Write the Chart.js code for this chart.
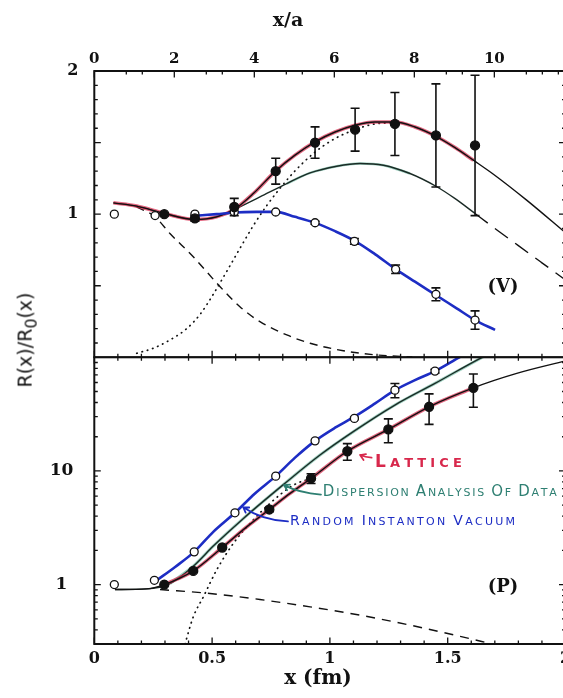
<!DOCTYPE html>
<html>
<head>
<meta charset="utf-8">
<script src="https://cdn.jsdelivr.net/npm/chart.js@4.4.1/dist/chart.umd.min.js"></script>
<style>
  html, body { margin: 0; padding: 0; background: #fff; width: 563px; height: 698px; overflow: hidden; position: relative; }
  canvas { position: absolute; left: 0; }
  #topPanel { top: 0; }
  #botPanel { top: 340px; }
  .title { position: absolute; font-family: "DejaVu Serif", serif; font-weight: bold; color: #111; white-space: nowrap; transform: translate(-50%, -50%); }
  #ytitle { position: absolute; left: 27px; top: 340px; transform: translate(-50%, -50%) rotate(-90deg); font-family: "DejaVu Sans", sans-serif; font-size: 19px; color: #111; white-space: nowrap; }
</style>
</head>
<body>
<canvas id="topPanel" width="620" height="358"></canvas>
<canvas id="botPanel" width="620" height="358"></canvas>
<div class="title" style="left:288px;top:19px;font-size:19px">x/a</div>
<div class="title" style="left:318px;top:677px;font-size:20px">x (fm)</div>
<div id="ytitle">R(x)/R<sub>0</sub>(x)</div>
<script>
// lattice spacing in fm, used for the top x/a axis
const A_FM = 0.1698;

const xaTicks = [0, 2, 4, 6, 8, 10];
const fmTicks = [0, 0.5, 1, 1.5, 2];
const vTicks = [1, 2];
const pTicks = [1, 10];

// ---- vector channel (V), top panel ----
const vLatX = [0.297, 0.427, 0.594, 0.770, 0.937, 1.107, 1.276, 1.450, 1.616];
const vLatY = [1.00, 0.97, 1.05, 1.30, 1.50, 1.59, 1.63, 1.55, 1.48];
const vLatErr = [0.01, 0.02, 0.06, 0.09, 0.11, 0.15, 0.22, 0.36, 0.49];

const vInstX = [0.085, 0.258, 0.427, 0.594, 0.770, 0.937, 1.104, 1.279, 1.450, 1.616];
const vInstY = [1.00, 0.99, 1.00, 1.015, 1.015, 0.94, 0.81, 0.615, 0.44, 0.26];
const vInstErr = [0, 0, 0, 0, 0, 0.01, 0.02, 0.03, 0.045, 0.064];

const vFitX = [0.081, 0.180, 0.297, 0.427, 0.519, 0.594, 0.675, 0.770, 0.852, 0.937, 1.022, 1.107, 1.191, 1.276, 1.361, 1.450, 1.531, 1.609, 1.694, 1.835, 2.0];
const vFitY = [1.079, 1.056, 1.005, 0.963, 0.981, 1.033, 1.144, 1.302, 1.412, 1.505, 1.574, 1.621, 1.644, 1.644, 1.609, 1.544, 1.465, 1.377, 1.279, 1.098, 0.87];

const vDispX = [0.081, 0.180, 0.297, 0.427, 0.519, 0.594, 0.703, 0.817, 0.916, 1.029, 1.128, 1.227, 1.340, 1.450, 1.530, 1.616];
const vDispY = [1.079, 1.056, 1.005, 0.963, 0.981, 1.033, 1.121, 1.214, 1.288, 1.335, 1.354, 1.342, 1.284, 1.195, 1.11, 1.005];
const vDispTailX = [1.616, 1.70, 1.80, 1.90, 2.0];
const vDispTailY = [1.005, 0.90, 0.78, 0.66, 0.54];

const vContX = [0.180, 0.258, 0.321, 0.420, 0.534, 0.618, 0.703, 0.817, 0.916, 1.057, 1.199, 1.35];
const vContY = [1.05, 0.981, 0.865, 0.702, 0.493, 0.353, 0.249, 0.156, 0.098, 0.046, 0.016, 0.003];

const vResX = [0.180, 0.250, 0.321, 0.392, 0.449, 0.505, 0.562, 0.618, 0.675, 0.732, 0.788, 0.845, 0.930, 1.014, 1.099, 1.184, 1.276];
const vResY = [0.028, 0.063, 0.121, 0.20, 0.30, 0.44, 0.60, 0.76, 0.92, 1.06, 1.18, 1.29, 1.424, 1.521, 1.586, 1.628, 1.640];

const vBlueX = [0.427, 0.519, 0.594, 0.689, 0.770, 0.852, 0.937, 1.022, 1.107, 1.191, 1.279, 1.361, 1.450, 1.538, 1.616, 1.701];
const vBlueY = [0.988, 1.0, 1.012, 1.016, 1.016, 0.981, 0.939, 0.881, 0.812, 0.721, 0.616, 0.528, 0.435, 0.342, 0.260, 0.191];

// ---- pseudoscalar channel (P), bottom panel ----
const pLatX = [0.297, 0.420, 0.543, 0.743, 0.920, 1.074, 1.248, 1.421, 1.609];
const pLatY = [1.00, 1.32, 2.12, 4.58, 8.6, 14.9, 23.2, 36.7, 53.9];
const pLatErr = [0, 0.03, 0.05, 0.2, 0.85, 2.5, 5.5, 11, 17.5];

const pInstX = [0.085, 0.255, 0.424, 0.597, 0.770, 0.937, 1.104, 1.276, 1.446];
const pInstY = [1.00, 1.09, 1.94, 4.28, 9.0, 18.4, 29.0, 51.4, 75.6];
const pInstErr = [0, 0, 0, 0, 0, 0, 0.6, 7.4, 3];

const pFitX = [0.088, 0.222, 0.297, 0.420, 0.543, 0.647, 0.743, 0.831, 0.920, 1.074, 1.248, 1.421, 1.609, 1.793, 2.0];
const pFitY = [0.905, 0.916, 1.0, 1.32, 2.12, 3.22, 4.58, 6.34, 8.6, 14.9, 23.2, 36.7, 53.9, 72.2, 93];

const pDispX = [0.088, 0.222, 0.321, 0.420, 0.505, 0.633, 0.805, 0.958, 1.104, 1.276, 1.446, 1.651, 1.75];
const pDispY = [0.905, 0.916, 1.02, 1.45, 2.18, 3.82, 7.65, 13.8, 22.5, 38.0, 58.9, 101, 125];

const pBlueX = [0.265, 0.343, 0.424, 0.505, 0.597, 0.682, 0.770, 0.852, 0.937, 1.022, 1.104, 1.192, 1.276, 1.361, 1.446, 1.553, 1.62];
const pBlueY = [1.09, 1.43, 1.94, 2.91, 4.28, 6.34, 9.0, 13.1, 18.4, 24.0, 30.0, 39.3, 51.4, 63.0, 75.6, 101, 120];

const pContX = [0.279, 0.491, 0.703, 0.916, 1.128, 1.340, 1.553, 1.69];
const pContY = [0.905, 0.835, 0.739, 0.637, 0.538, 0.44, 0.35, 0.30];

const pResX = [0.385, 0.420, 0.463, 0.519, 0.590, 0.661, 0.745, 0.845, 0.92];
const pResY = [0.30, 0.52, 0.78, 1.34, 2.30, 3.45, 5.17, 7.50, 8.6];

const SERIF = '"DejaVu Serif", serif';
const SANS = '"DejaVu Sans", sans-serif';
const INK = '#111';
const BLUE = '#1d2dc4';
const RED = 'rgba(214, 40, 76, 0.7)';
const GREEN = 'rgba(40, 150, 115, 0.45)';

const pts = (xs, ys) => xs.map((x, i) => ({ x, y: ys[i] }));
const upTo = (xs, ys, lo, hi) => {
  const keep = xs.map((x, i) => i).filter(i => xs[i] >= lo && xs[i] <= hi);
  return keep.map(i => ({ x: xs[i], y: ys[i] }));
};

function curve(data, color, width, dash) {
  return {
    data, showLine: true, pointRadius: 0, borderColor: color, borderWidth: width,
    borderDash: dash || [], borderCapStyle: dash && dash[0] < 2 ? 'round' : 'butt',
    cubicInterpolationMode: 'monotone', fill: false
  };
}
function marks(data, err, filled) {
  return {
    data, err, showLine: false,
    pointRadius: filled ? 4.5 : 4, pointBorderWidth: 1.3,
    pointBackgroundColor: filled ? INK : '#fff', pointBorderColor: INK
  };
}

const steps = (from, to, step) => {
  const out = [];
  for (let v = from; v <= to + 1e-9; v += step) out.push(Math.round(v * 1000) / 1000);
  return out;
};
const fmMinor = steps(0, 2, 0.1).filter(v => !fmTicks.includes(v));
const logMinor = [0.3, 0.4, 0.5, 0.6, 0.7, 0.8, 0.9, 2, 3, 4, 5, 6, 7, 8, 9, 20, 30, 40, 50, 60, 70, 80, 90];

// fixed axis sizes, no extra room for overhanging labels
const fixSize = (w, h) => s => {
  if (w !== null) s.width = w;
  if (h !== null) s.height = h;
  s.paddingTop = s.paddingBottom = s.paddingLeft = s.paddingRight = 0;
};

// inward tick marks and the frame
const framePlugin = {
  id: 'frame',
  afterDatasetsDraw(chart, args, opts) {
    const { ctx, chartArea: a } = chart;
    ctx.save();
    ctx.strokeStyle = INK;
    ctx.lineWidth = 1.3;
    opts.marks.forEach(m => {
      const s = chart.scales[m.scale];
      const all = m.minor.map(v => [v, 3.5]).concat(m.major.map(v => [v, 6.5]));
      ctx.beginPath();
      all.forEach(([v, len]) => {
        const p = s.getPixelForValue(v);
        m.edges.forEach(edge => {
          if (edge === 'top') { ctx.moveTo(p, a.top); ctx.lineTo(p, a.top + len); }
          if (edge === 'bottom') { ctx.moveTo(p, a.bottom); ctx.lineTo(p, a.bottom - len); }
          if (edge === 'left') { ctx.moveTo(a.left, p); ctx.lineTo(a.left + len, p); }
          if (edge === 'right') { ctx.moveTo(a.right, p); ctx.lineTo(a.right - len, p); }
        });
      });
      ctx.stroke();
    });
    ctx.lineWidth = 2;
    ctx.strokeRect(a.left, a.top, a.right - a.left, a.bottom - a.top);
    ctx.restore();
  }
};

// error bars, drawn just before their point dataset
const errPlugin = {
  id: 'errBars',
  beforeDatasetDraw(chart, args) {
    const ds = chart.data.datasets[args.index];
    if (!ds.err) return;
    const { ctx } = chart;
    const xs = chart.scales.x, ys = chart.scales.y;
    ctx.save();
    ctx.strokeStyle = INK;
    ctx.lineWidth = 1.6;
    ds.data.forEach((p, i) => {
      const e = ds.err[i];
      if (!e) return;
      const px = xs.getPixelForValue(p.x);
      const y1 = ys.getPixelForValue(p.y - e), y2 = ys.getPixelForValue(p.y + e);
      ctx.beginPath();
      ctx.moveTo(px, y1); ctx.lineTo(px, y2);
      ctx.moveTo(px - 4.5, y1); ctx.lineTo(px + 4.5, y1);
      ctx.moveTo(px - 4.5, y2); ctx.lineTo(px + 4.5, y2);
      ctx.stroke();
    });
    ctx.restore();
  }
};

// panel labels and the hand-written notes
function drawCaps(ctx, n, x, y) {
  const parts = [...n.text].map((ch, i, arr) => ({
    ch: ch.toUpperCase(), size: (i === 0 || arr[i - 1] === ' ') ? n.big : n.small
  }));
  let total = 0;
  parts.forEach(p => { ctx.font = `${n.weight || 'normal'} ${p.size}px ${SANS}`; p.w = ctx.measureText(p.ch).width; total += p.w; });
  const gap = (n.width - total) / (parts.length - 1);
  let cx = x;
  parts.forEach(p => {
    ctx.font = `${n.weight || 'normal'} ${p.size}px ${SANS}`;
    ctx.fillText(p.ch, cx, y);
    cx += p.w + gap;
  });
}
const notesPlugin = {
  id: 'notes',
  afterDraw(chart, args, opts) {
    const { ctx } = chart;
    const xs = chart.scales.x, ys = chart.scales.y;
    const P = (x, y) => [xs.getPixelForValue(x), ys.getPixelForValue(y)];
    ctx.save();
    (opts.items || []).forEach(n => {
      ctx.fillStyle = n.color;
      ctx.strokeStyle = n.color;
      if (n.kind === 'text') {
        const [x, y] = P(n.x, n.y);
        ctx.font = n.font;
        ctx.textAlign = 'center';
        ctx.textBaseline = 'middle';
        ctx.fillText(n.text, x, y);
      } else if (n.kind === 'caps') {
        const [x, y] = P(n.x, n.y);
        ctx.textAlign = 'left';
        ctx.textBaseline = 'alphabetic';
        drawCaps(ctx, n, x, y);
      } else if (n.kind === 'arrow') {
        const [s, c, e] = n.pts.map(p => P(p[0], p[1]));
        ctx.lineWidth = 1.8;
        ctx.lineCap = 'round';
        ctx.beginPath();
        ctx.moveTo(s[0], s[1]);
        ctx.quadraticCurveTo(c[0], c[1], e[0], e[1]);
        const ang = Math.atan2(e[1] - c[1], e[0] - c[0]);
        [0.55, -0.55].forEach(d => {
          ctx.moveTo(e[0], e[1]);
          ctx.lineTo(e[0] - 6 * Math.cos(ang + d), e[1] - 6 * Math.sin(ang + d));
        });
        ctx.stroke();
      }
    });
    ctx.restore();
  }
};

const tickFont = size => ({ family: SERIF, size, weight: 'bold' });
const common = {
  responsive: false,
  animation: false,
  events: [],
  plugins: { legend: { display: false }, tooltip: { enabled: false } }
};

// ---------- top panel (V) ----------
new Chart(document.getElementById('topPanel'), {
  type: 'scatter',
  data: {
    datasets: [
      marks(pts(vLatX, vLatY), vLatErr, true),
      marks(pts(vInstX, vInstY), vInstErr, false),
      curve(pts(vBlueX, vBlueY), BLUE, 2.6),
      curve(pts(vFitX, vFitY), INK, 1.4),
      curve(upTo(vFitX, vFitY, 0, vLatX[vLatX.length - 1] + 0.001), RED, 3.6),
      curve(pts(vDispX, vDispY), '#1b2b26', 1.4),
      curve(upTo(vDispX, vDispY, 0.8, 1.4), GREEN, 2.5),
      curve(pts(vDispTailX, vDispTailY), INK, 1.4, [16, 9]),
      curve(pts(vContX, vContY), INK, 1.4, [8, 6]),
      curve(pts(vResX, vResY), INK, 1.7, [0.5, 5])
    ]
  },
  options: {
    ...common,
    layout: { autoPadding: false, padding: { left: 0, top: 0, right: 54.5, bottom: 0.7 } },
    plugins: {
      ...common.plugins,
      frame: {
        marks: [
          { scale: 'xa', edges: ['top'], major: xaTicks, minor: steps(0, 11.6, 0.4).filter(v => !xaTicks.includes(Math.round(v))) },
          { scale: 'x', edges: ['bottom'], major: fmTicks, minor: fmMinor },
          { scale: 'y', edges: ['left', 'right'], major: [0.5, 1, 1.5], minor: steps(0.1, 1.9, 0.1).filter(v => v % 0.5 !== 0) }
        ]
      },
      notes: { items: [{ kind: 'text', text: '(V)', x: 1.735, y: 0.49, font: `bold 18px ${SERIF}`, color: INK }] }
    },
    scales: {
      x: { type: 'linear', min: 0, max: 2, display: false },
      xa: {
        type: 'linear', position: 'top', min: 0, max: 2 / A_FM,
        grid: { display: false, drawTicks: false }, border: { display: false },
        afterBuildTicks: s => { s.ticks = xaTicks.map(v => ({ value: v })); },
        afterFit: fixSize(null, 71),
        ticks: { font: tickFont(15), color: INK, padding: 3, maxRotation: 0, autoSkip: false, callback: v => String(v) }
      },
      y: {
        type: 'linear', min: 0, max: 2,
        grid: { display: false, drawTicks: false }, border: { display: false },
        afterBuildTicks: s => { s.ticks = vTicks.map(v => ({ value: v })); },
        afterFit: fixSize(94.3, null),
        ticks: { font: tickFont(16), color: INK, padding: 16, crossAlign: 'center', callback: v => String(v) }
      }
    }
  },
  plugins: [errPlugin, framePlugin, notesPlugin]
});

// ---------- bottom panel (P) ----------
new Chart(document.getElementById('botPanel'), {
  type: 'scatter',
  data: {
    datasets: [
      marks(pts(pLatX, pLatY), pLatErr, true),
      marks(pts(pInstX, pInstY), pInstErr, false),
      curve(pts(pBlueX, pBlueY), BLUE, 2.6),
      curve(pts(pFitX, pFitY), INK, 1.4),
      curve(upTo(pFitX, pFitY, 0.28, pLatX[pLatX.length - 1] + 0.001), RED, 3.6),
      curve(pts(pDispX, pDispY), '#1b2b26', 1.4),
      curve(upTo(pDispX, pDispY, 0.3, 1.7), GREEN, 3),
      curve(pts(pContX, pContY), INK, 1.4, [9, 7]),
      curve(pts(pResX, pResY), INK, 1.7, [0.5, 5])
    ]
  },
  options: {
    ...common,
    layout: { autoPadding: false, padding: { left: 0, top: 17.3, right: 54.5, bottom: 0 } },
    plugins: {
      ...common.plugins,
      frame: {
        marks: [
          { scale: 'x', edges: ['top', 'bottom'], major: fmTicks, minor: fmMinor },
          { scale: 'y', edges: ['left', 'right'], major: [1, 10], minor: logMinor }
        ]
      },
      notes: {
        items: [
          { kind: 'text', text: '(P)', x: 1.735, y: 0.95, font: `bold 18px ${SERIF}`, color: INK },
          { kind: 'arrow', pts: [[1.177, 13.1], [1.15, 13.2], [1.128, 13.8]], color: '#d8284c' },
          { kind: 'caps', text: 'Lattice', x: 1.191, y: 10.8, big: 17, small: 13, width: 87, weight: 'bold', color: '#d8284c' },
          { kind: 'arrow', pts: [[0.962, 6.2], [0.87, 6.4], [0.805, 7.5]], color: '#2e7f72' },
          { kind: 'caps', text: 'Dispersion Analysis of Data', x: 0.970, y: 6.0, big: 15, small: 11, width: 234, color: '#2e7f72' },
          { kind: 'arrow', pts: [[0.822, 3.6], [0.712, 3.69], [0.632, 4.8]], color: BLUE },
          { kind: 'caps', text: 'Random Instanton Vacuum', x: 0.831, y: 3.33, big: 14, small: 11, width: 225, color: BLUE }
        ]
      }
    },
    scales: {
      x: {
        type: 'linear', position: 'bottom', min: 0, max: 2,
        grid: { display: false, drawTicks: false }, border: { display: false },
        afterBuildTicks: s => { s.ticks = fmTicks.map(v => ({ value: v })); },
        afterFit: fixSize(null, 54),
        ticks: { font: tickFont(16), color: INK, padding: 5, maxRotation: 0, autoSkip: false, callback: v => String(v) }
      },
      y: {
        type: 'logarithmic', min: 0.3, max: 100,
        grid: { display: false, drawTicks: false }, border: { display: false },
        afterBuildTicks: s => { s.ticks = pTicks.map(v => ({ value: v })); },
        afterFit: fixSize(94.3, null),
        ticks: { font: tickFont(17), color: INK, padding: 21, crossAlign: 'center', callback: v => String(v) }
      }
    }
  },
  plugins: [errPlugin, framePlugin, notesPlugin]
});
</script>
</body>
</html>
